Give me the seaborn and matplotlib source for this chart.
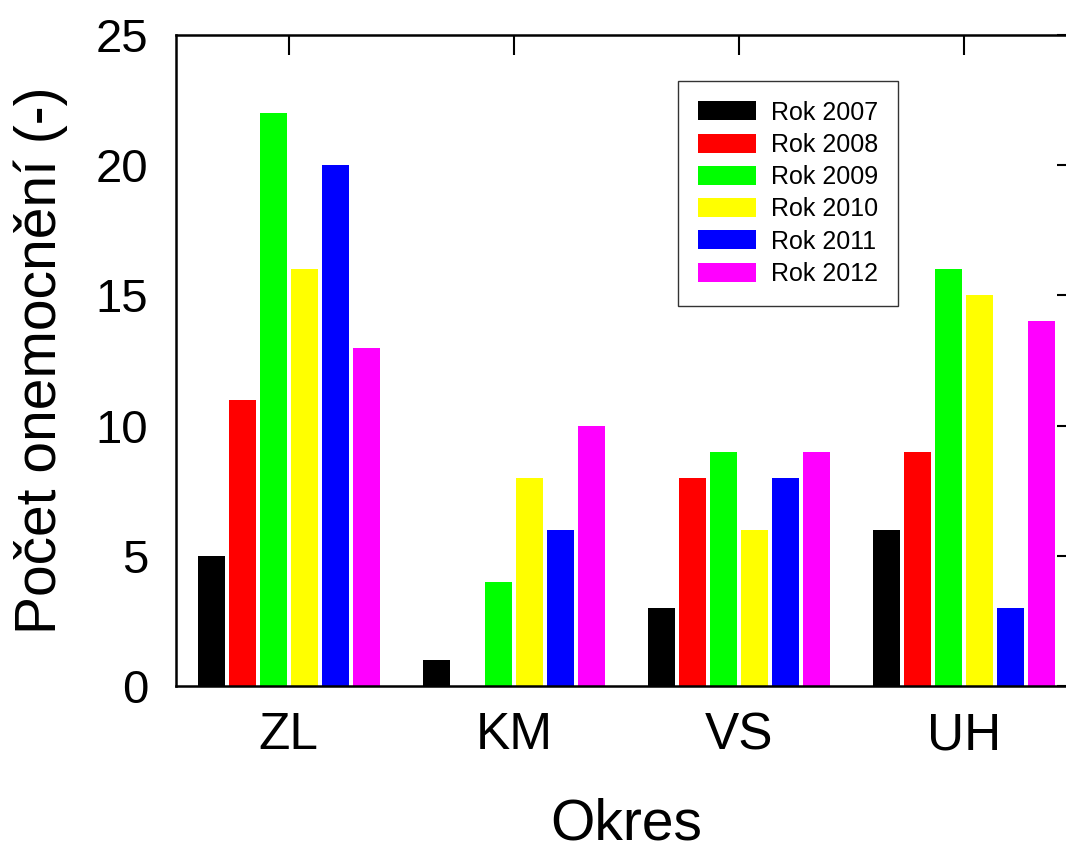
import matplotlib
matplotlib.use("Agg")
import matplotlib.pyplot as plt
from matplotlib.patches import Patch
import seaborn as sns
import pandas as pd

# Disease counts per district and year
okresy = ["ZL", "KM", "VS", "UH"]
roky = ["Rok 2007", "Rok 2008", "Rok 2009", "Rok 2010", "Rok 2011", "Rok 2012"]
rok_2007 = [5, 1, 3, 6]
rok_2008 = [11, 0, 8, 9]
rok_2009 = [22, 4, 9, 16]
rok_2010 = [16, 8, 6, 15]
rok_2011 = [20, 6, 8, 3]
rok_2012 = [13, 10, 9, 14]
barvy = ["#000000", "#ff0000", "#00ff00", "#ffff00", "#0000ff", "#ff00ff"]
y_ticks = [0, 5, 10, 15, 20, 25]

series = [rok_2007, rok_2008, rok_2009, rok_2010, rok_2011, rok_2012]
rows = []
for rok, vals in zip(roky, series):
    for okres, v in zip(okresy, vals):
        rows.append({"Okres": okres, "Rok": rok, "Pocet": v})
df = pd.DataFrame(rows)

sns.set_style("white")
plt.rcParams["font.family"] = ["Liberation Sans", "DejaVu Sans"]
plt.rcParams["text.color"] = "black"
plt.rcParams["axes.labelcolor"] = "black"
plt.rcParams["xtick.color"] = "black"
plt.rcParams["ytick.color"] = "black"

fig = plt.figure(figsize=(10.66, 8.5), dpi=100)
ax = fig.add_axes([0.1651, 0.1929, 1.0103 - 0.1651, 0.9588 - 0.1929])

sns.barplot(data=df, x="Okres", y="Pocet", hue="Rok", order=okresy,
            hue_order=roky, palette=barvy, width=0.825, gap=0.127,
            saturation=1, linewidth=0, errorbar=None, legend=False, ax=ax)

ax.set_xlim(-0.5, len(okresy) - 0.5)
ax.set_ylim(0, 25)
ax.set_yticks(y_ticks)
ax.set_yticklabels([str(t) for t in y_ticks])

for s in ax.spines.values():
    s.set_visible(True)
    s.set_color("black")
    s.set_linewidth(1.8)

ax.tick_params(axis="both", which="major", direction="in", length=14.4,
               width=1.5, color="black", top=True, right=True)
ax.tick_params(axis="y", labelsize=34, pad=20)
ax.tick_params(axis="x", labelsize=37, pad=18)

ax.set_xlabel("Okres", fontsize=41, labelpad=27)
ax.set_ylabel("Počet onemocnění (-)", fontsize=41, labelpad=20)

handles = [Patch(facecolor=c, edgecolor="none") for c in barvy]
leg = ax.legend(handles, roky, loc="upper left", bbox_to_anchor=(0.557, 0.930),
                borderaxespad=0, fontsize=18, frameon=True, fancybox=False,
                handlelength=2.32, handleheight=0.78, handletextpad=0.6,
                labelspacing=0.33, borderpad=0.8)
leg.get_frame().set_edgecolor("black")
leg.get_frame().set_linewidth(1.0)

fig.savefig("out.png", dpi=100)
